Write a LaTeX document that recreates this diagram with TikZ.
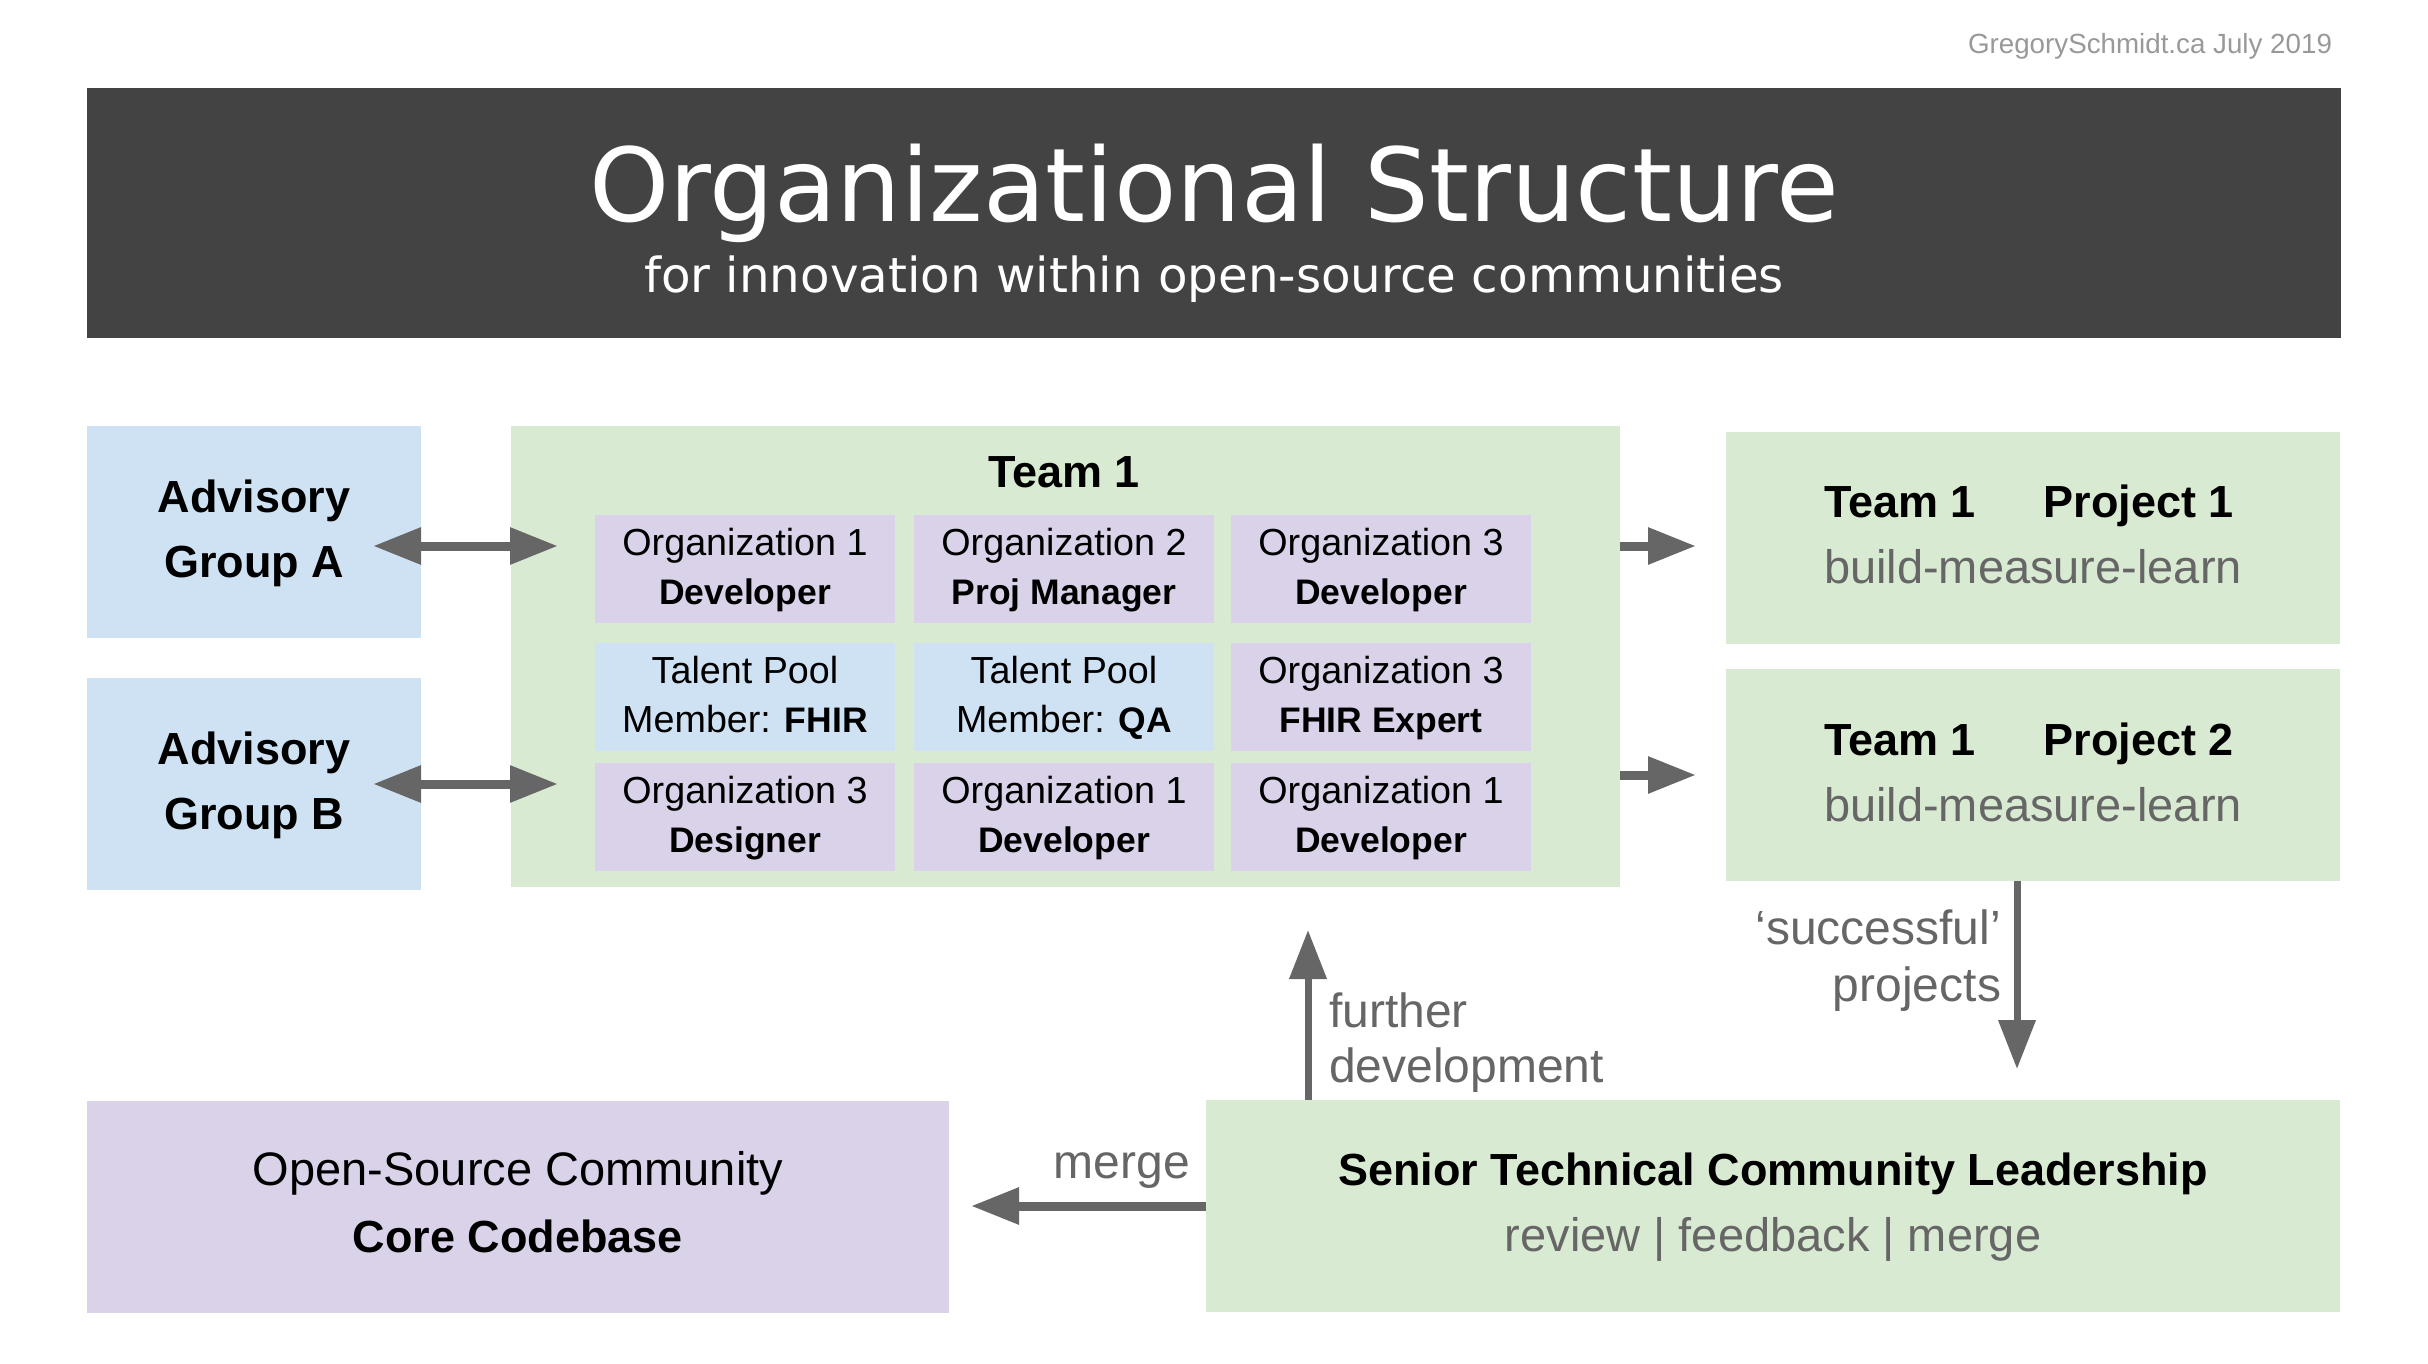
\documentclass[tikz,border=0pt]{standalone}
\usepackage{fontspec}
\setmainfont{Liberation Sans}
\newfontfamily\titlefont{DejaVu Sans}
\usetikzlibrary{arrows.meta}
\definecolor{barc}{HTML}{434343}
\definecolor{lblue}{HTML}{CFE2F3}
\definecolor{lgreen}{HTML}{D9EAD3}
\definecolor{lpurple}{HTML}{D9D2E9}
\definecolor{agrey}{HTML}{666666}
\definecolor{tgrey}{HTML}{666666}
\definecolor{attrc}{HTML}{999999}
\newcommand\fbold{\fontsize{45}{54}\selectfont\bfseries}
\newcommand\freg{\fontsize{47}{56}\selectfont}
\newcommand\fcell{\fontsize{37.7}{45}\selectfont}
\newcommand\fcellb{\fontsize{35.5}{45}\selectfont\bfseries}
\newcommand\flab{\fontsize{48}{56}\selectfont}
\begin{document}
\begin{tikzpicture}[x=1pt,y=-1pt,
  box/.style={rectangle, inner sep=0pt, outer sep=0pt, draw=none, anchor=north west},
  txt/.style={inner sep=0pt, outer sep=0pt, anchor=base},
  bigarrow/.style={draw=agrey, line width=9pt, -{Triangle[length=48pt,width=35pt]}},
  dblarrow/.style={draw=agrey, line width=9pt, {Triangle[length=48pt,width=35pt]}-{Triangle[length=48pt,width=35pt]}},
  thinarrow/.style={draw=agrey, line width=7pt, -{Triangle[length=49pt,width=36pt]}},
  cellp/.style={box, fill=lpurple, minimum width=300pt, minimum height=108pt},
  cellb/.style={box, fill=lblue, minimum width=300pt, minimum height=108pt}
]
\useasboundingbox (0,0) rectangle (2428,1364);
\fill[white] (0,0) rectangle (2428,1364);

% attribution
\node[txt, anchor=base east, font=\fontsize{27.75}{33}\selectfont, text=attrc] (attr) at (2332,54) {GregorySchmidt.ca July 2019};

% title bar
\node[box, fill=barc, minimum width=2254pt, minimum height=250pt] (bar) at (87,88) {};
\node[txt, font=\titlefont\fontsize{102}{120}\selectfont, text=white] (title) at (1214,222) {Organizational Structure};
\node[txt, font=\titlefont\fontsize{48.3}{56}\selectfont, text=white] (subtitle) at (1214,293) {for innovation within open-source communities};

% advisory groups
\node[box, fill=lblue, minimum width=334pt, minimum height=212pt] (advA) at (87,426) {};
\node[txt, font=\fbold] (advAt1) at (254,512) {Advisory};
\node[txt, font=\fbold] (advAt2) at (254,577) {Group A};
\node[box, fill=lblue, minimum width=334pt, minimum height=212pt] (advB) at (87,678) {};
\node[txt, font=\fbold] (advBt1) at (254,764) {Advisory};
\node[txt, font=\fbold] (advBt2) at (254,829) {Group B};

% team box
\node[box, fill=lgreen, minimum width=1109pt, minimum height=461pt] (team) at (511,426) {};
\node[txt, font=\fbold] (teamt) at (1064,487) {Team 1};

% cells row 1
\node[cellp] (c11) at (595,515) {};
\node[cellp] (c12) at (914,515) {};
\node[cellp] (c13) at (1231,515) {};
% row 2
\node[cellb] (c21) at (595,643) {};
\node[cellb] (c22) at (914,643) {};
\node[cellp] (c23) at (1231,643) {};
% row 3
\node[cellp] (c31) at (595,763) {};
\node[cellp] (c32) at (914,763) {};
\node[cellp] (c33) at (1231,763) {};

\node[txt, font=\fcell] (c11a) at (745,555) {Organization 1};
\node[txt, font=\fcellb] (c11b) at (745,604) {Developer};
\node[txt, font=\fcell] (c12a) at (1064,555) {Organization 2};
\node[txt, font=\fcellb] (c12b) at (1064,604) {Proj Manager};
\node[txt, font=\fcell] (c13a) at (1381,555) {Organization 3};
\node[txt, font=\fcellb] (c13b) at (1381,604) {Developer};

\node[txt, font=\fcell] (c21a) at (745,683) {Talent Pool};
\node[txt, font=\fcell] (c21b) at (745,732) {Member: {\fcellb FHIR}};
\node[txt, font=\fcell] (c22a) at (1064,683) {Talent Pool};
\node[txt, font=\fcell] (c22b) at (1064,732) {Member: {\fcellb QA}};
\node[txt, font=\fcell] (c23a) at (1381,683) {Organization 3};
\node[txt, font=\fcellb] (c23b) at (1381,732) {FHIR Expert};

\node[txt, font=\fcell] (c31a) at (745,803) {Organization 3};
\node[txt, font=\fcellb] (c31b) at (745,852) {Designer};
\node[txt, font=\fcell] (c32a) at (1064,803) {Organization 1};
\node[txt, font=\fcellb] (c32b) at (1064,852) {Developer};
\node[txt, font=\fcell] (c33a) at (1381,803) {Organization 1};
\node[txt, font=\fcellb] (c33b) at (1381,852) {Developer};

% project boxes
\node[box, fill=lgreen, minimum width=614pt, minimum height=212pt] (p1) at (1726,432) {};
\node[txt, anchor=base west, font=\fbold] (p1t) at (1824,517) {Team 1\hspace{68pt}Project 1};
\node[txt, font=\freg, text=tgrey] (p1s) at (2033,583) {build-measure-learn};
\node[box, fill=lgreen, minimum width=614pt, minimum height=212pt] (p2) at (1726,669) {};
\node[txt, anchor=base west, font=\fbold] (p2t) at (1824,755) {Team 1\hspace{68pt}Project 2};
\node[txt, font=\freg, text=tgrey] (p2s) at (2033,821) {build-measure-learn};

% bottom boxes
\node[box, fill=lpurple, minimum width=862pt, minimum height=212pt] (core) at (87,1101) {};
\node[txt, font=\freg] (coret1) at (518,1185) {Open-Source Community};
\node[txt, font=\fbold] (coret2) at (518,1252) {Core Codebase};
\node[box, fill=lgreen, minimum width=1134pt, minimum height=212pt] (senior) at (1206,1100) {};
\node[txt, font=\fbold] (seniort1) at (1773,1185) {Senior Technical Community Leadership};
\node[txt, font=\freg, text=tgrey] (seniort2) at (1773,1251) {review | feedback | merge};

% arrow coordinates
\coordinate (aA1) at (373,546);
\coordinate (aA2) at (558,546);
\coordinate (aB1) at (373,784);
\coordinate (aB2) at (558,784);
\coordinate (ap1s) at (1620,546);
\coordinate (ap1e) at (1696,546);
\coordinate (ap2s) at (1620,775);
\coordinate (ap2e) at (1696,775);
\coordinate (sps) at (2017,881);
\coordinate (spe) at (2017,1069);
\coordinate (fds) at (1308,1100);
\coordinate (fde) at (1308,930);
\coordinate (ms) at (1206,1206);
\coordinate (me) at (971,1206);

\draw[dblarrow] (aA1) -- (aA2);
\draw[dblarrow] (aB1) -- (aB2);
\draw[bigarrow] (ap1s) -- (ap1e);
\draw[bigarrow] (ap2s) -- (ap2e);
\draw[thinarrow] (sps) -- (spe);
\draw[thinarrow] (fds) -- (fde);
\draw[bigarrow] (ms) -- (me);

% labels
\node[txt, font=\flab, text=tgrey] (mergel) at (1122,1178) {merge};
\node[txt, anchor=base west, font=\flab, text=tgrey] (fdl1) at (1329,1027) {further};
\node[txt, anchor=base west, font=\flab, text=tgrey] (fdl2) at (1329,1082) {development};
\node[txt, anchor=base east, font=\flab, text=tgrey] (spl1) at (2001,944) {‘successful’};
\node[txt, anchor=base east, font=\flab, text=tgrey] (spl2) at (2001,1001) {projects};
\end{tikzpicture}
\end{document}
